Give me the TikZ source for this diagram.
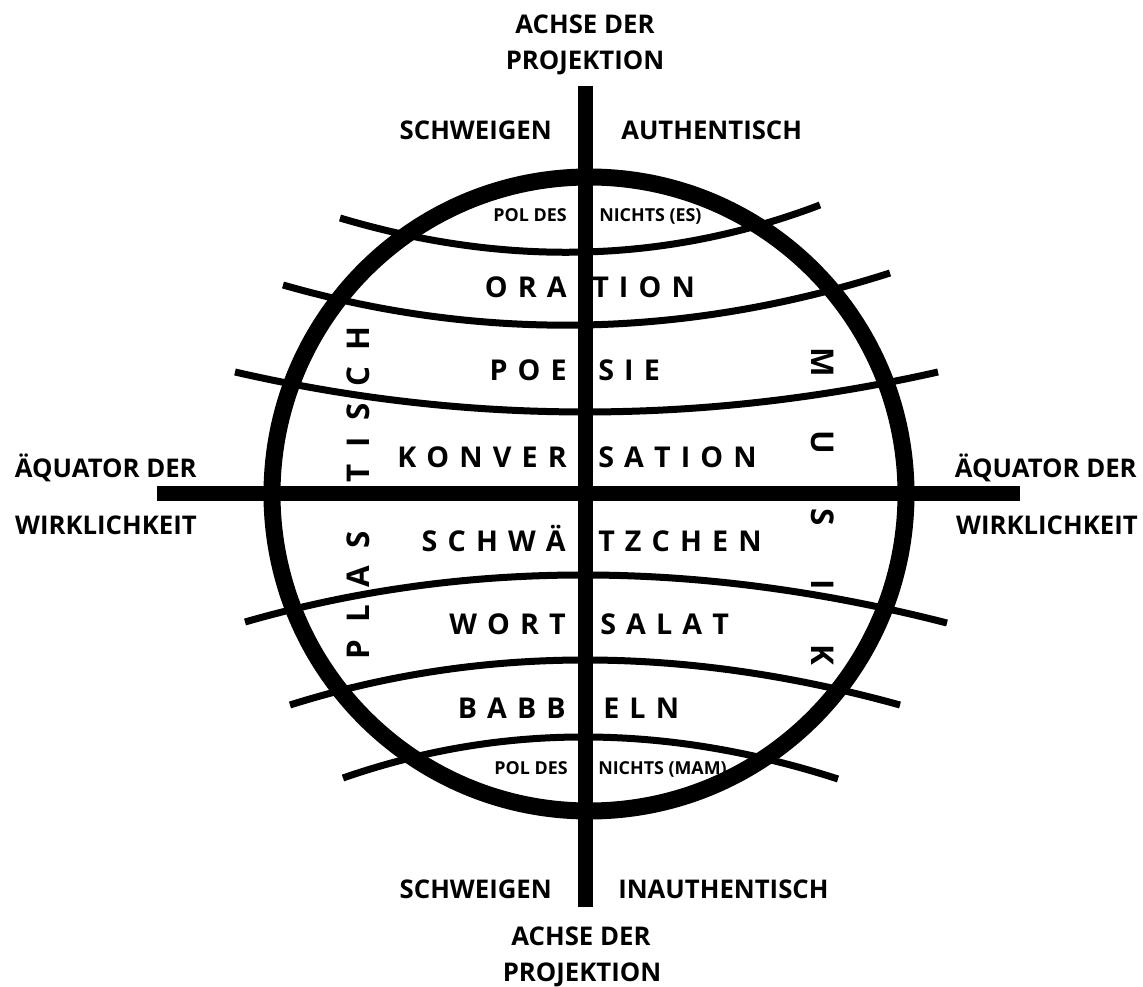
\documentclass[tikz,border=0pt]{standalone}
\usepackage{fontspec}
\setmainfont{Open Sans}
\makeatletter
\newdimen\trk
\def\spc#1#2{\trk=#1\relax\spc@#2\@nil}
\def\spc@#1#2\@nil{#1\ifx\relax#2\relax\else\kern\trk\spc@#2\@nil\fi}
\makeatother
\begin{document}
\begin{tikzpicture}[x=0.75pt,y=-0.75pt,
  axisline/.style={line width=11.25pt},
  globe/.style={line width=12.75pt},
  lat/.style={line width=5.25pt},
  lbl/.style={font=\bfseries\fontsize{19.3pt}{22pt}\selectfont, inner sep=0pt},
  wd/.style={font=\bfseries\fontsize{21.5pt}{26pt}\selectfont, inner sep=0pt},
  pol/.style={font=\bfseries\fontsize{13.4pt}{16pt}\selectfont, inner sep=0pt},
  vw/.style={font=\bfseries\fontsize{23.5pt}{28pt}\selectfont, inner sep=0pt}]
\useasboundingbox (0,0) rectangle (1143,987);

% latitude curves
\coordinate (a1) at (340,218); \coordinate (b1) at (820,205);
\coordinate (a2) at (283,285); \coordinate (b2) at (890,273);
\coordinate (a3) at (235,372); \coordinate (b3) at (938,372);
\coordinate (a4) at (245,622); \coordinate (b4) at (947,623);
\coordinate (a5) at (290,705); \coordinate (b5) at (900,705);
\coordinate (a6) at (343,778); \coordinate (b6) at (838,779);
\draw[lat] (a1) .. controls (506.7,267.7) and (666.7,263.3) .. (b1);
\draw[lat] (a2) .. controls (483.3,342.3) and (685.7,338.3) .. (b2);
\draw[lat] (a3) .. controls (467.3,425.3) and (701.7,425.3) .. (b3);
\draw[lat] (a4) .. controls (464.3,559) and (698.3,559.3) .. (b4);
\draw[lat] (a5) .. controls (480,645) and (683.3,645) .. (b5);
\draw[lat] (a6) .. controls (500.7,723) and (665.7,723.3) .. (b6);

% globe
\coordinate (ctr) at (589,494);
\draw[globe] (ctr) circle [radius=237.75pt];

% axes
\coordinate (axT) at (585,86); \coordinate (axB) at (585,907);
\coordinate (eqL) at (157,494); \coordinate (eqR) at (1020,494);
\draw[axisline] (axT) -- (axB);
\draw[axisline] (eqL) -- (eqR);

% outer labels
\node[lbl, anchor=base] (achT) at (585,33.3) {ACHSE DER};
\node[lbl, anchor=base] (proT) at (585,69.3) {PROJEKTION};
\node[lbl, anchor=base east] (schT) at (552,139.3) {SCHWEIGEN};
\node[lbl, anchor=base west] (autT) at (621,139.3) {AUTHENTISCH};
\node[lbl, anchor=base east] (schB) at (552,898.3) {SCHWEIGEN};
\node[lbl, anchor=base west] (inaB) at (618,898.3) {INAUTHENTISCH};
\node[lbl, anchor=base] (achB) at (581,945.3) {ACHSE DER};
\node[lbl, anchor=base] (proB) at (582,981.3) {PROJEKTION};
\node[lbl, anchor=base east] (aeqL) at (197,477.3) {ÄQUATOR DER};
\node[lbl, anchor=base east] (wirL) at (197,534.3) {WIRKLICHKEIT};
\node[lbl, anchor=base east] (aeqR) at (1137,477.3) {ÄQUATOR DER};
\node[lbl, anchor=base east] (wirR) at (1138,534.3) {WIRKLICHKEIT};

% poles
\node[pol, anchor=base east] (polT) at (567,222) {POL DES};
\node[pol, anchor=base west] (nicT) at (599,222) {NICHTS (ES)};
\node[pol, anchor=base east] (polB) at (568,774) {POL DES};
\node[pol, anchor=base west] (nicB) at (598,774) {NICHTS (MAM)};

% words
\node[wd, anchor=base east] (w1l) at (567,298) {\spc{7.6pt}{ORA}};
\node[wd, anchor=base west] (w1r) at (592,298) {\spc{7.6pt}{TION}};
\node[wd, anchor=base east] (w2l) at (567,380.5) {\spc{7.6pt}{POE}};
\node[wd, anchor=base west] (w2r) at (598,380.5) {\spc{7.6pt}{SIE}};
\node[wd, anchor=base east] (w3l) at (567,468) {\spc{7.6pt}{KONVER}};
\node[wd, anchor=base west] (w3r) at (598,468) {\spc{7.6pt}{SATION}};
\node[wd, anchor=base east] (w4l) at (566,551.5) {\spc{7.6pt}{SCHWÄ}};
\node[wd, anchor=base west] (w4r) at (598,551.5) {\spc{7.6pt}{TZCHEN}};
\node[wd, anchor=base east] (w5l) at (566,634) {\spc{7.6pt}{WORT}};
\node[wd, anchor=base west] (w5r) at (600,634) {\spc{7.6pt}{SALAT}};
\node[wd, anchor=base east] (w6l) at (566,718) {\spc{7.6pt}{BABB}};
\node[wd, anchor=base west] (w6r) at (603,718) {\spc{7.6pt}{ELN}};

% vertical words
\node[vw, anchor=base west, rotate=90] (plas) at (369,660) {\spc{13pt}{PLAS}};
\node[vw, anchor=base west, rotate=90] (tisch) at (369,483) {\spc{12.5pt}{TISCH}};
\node[vw, anchor=base west, rotate=-90] (musik) at (811,347) {\spc{40.5pt}{MUSIK}};
\end{tikzpicture}
\end{document}
